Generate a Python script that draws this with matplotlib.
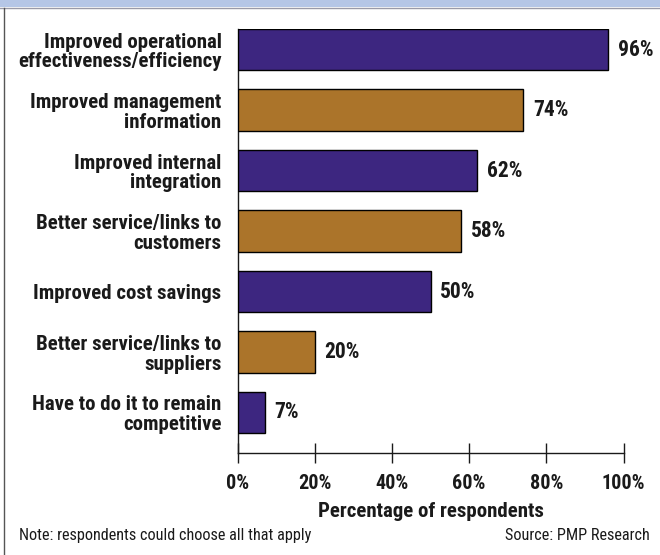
import matplotlib
matplotlib.use("Agg")
import matplotlib.pyplot as plt
from matplotlib.patches import Rectangle
from matplotlib.lines import Line2D

plt.rcParams['font.family'] = ['Liberation Sans Narrow', 'Roboto Condensed', 'DejaVu Sans Condensed', 'DejaVu Sans']

categories = [
    "Improved operational\neffectiveness/efficiency",
    "Improved management\ninformation",
    "Improved internal\nintegration",
    "Better service/links to\ncustomers",
    "Improved cost savings",
    "Better service/links to\nsuppliers",
    "Have to do it to remain\ncompetitive",
]
values = [96, 74, 62, 58, 50, 20, 7]
tick_values = [0, 20, 40, 60, 80, 100]
tick_labels = ["0%", "20%", "40%", "60%", "80%", "100%"]
xlabel = "Percentage of respondents"
note = "Note: respondents could choose all that apply"
source = "Source: PMP Research"

PURPLE = "#3d2680"
BROWN = "#ab742a"
INK = "#1a1a1a"
colors = [PURPLE if i % 2 == 0 else BROWN for i in range(len(values))]

W, H = 660, 555
fig = plt.figure(figsize=(W / 100, H / 100), dpi=100)

# header band and left frame rule
fig.add_artist(Rectangle((0, 1 - 7 / H), 1, 7 / H, transform=fig.transFigure,
                         facecolor="#b5c6e6", edgecolor="none"))
fig.add_artist(Line2D([0, 1], [1 - 7.5 / H, 1 - 7.5 / H], transform=fig.transFigure,
                      color="#9a9aa8", lw=1.0))
fig.add_artist(Line2D([3.5 / W, 3.5 / W], [0, 1 - 7.5 / H], transform=fig.transFigure,
                      color="#555555", lw=1.0))

x0, x1 = 237.5, 623.5
ytop, ybot = 29, 453
ax = fig.add_axes([x0 / W, (H - ybot) / H, (x1 - x0) / W, (ybot - ytop) / H])

n = len(values)
ypos = [n - 1 - i for i in range(n)]
ax.barh(ypos, values, height=0.68, color=colors, edgecolor="black", linewidth=1.0, zorder=3)

ax.set_xlim(0, 100)
ax.set_ylim(-0.67, n - 1 + 0.34)

FS = 15
for y, v in zip(ypos, values):
    ax.annotate(f"{v}%", (v, y), xytext=(7, 0), textcoords="offset points",
                ha="left", va="center", fontsize=15.5, fontweight="bold", color=INK)

ax.set_yticks(ypos)
ax.set_yticklabels(categories, fontsize=FS, fontweight="bold", color=INK, linespacing=1.05)
ax.tick_params(axis="y", length=0, pad=11.5)

ax.set_xticks(tick_values)
ax.set_xticklabels(tick_labels, fontsize=14.5, fontweight="bold", color=INK)
ax.tick_params(axis="x", direction="inout", length=14, width=1.0, pad=8.2, color=INK)
ax.set_xlabel(xlabel, fontsize=FS, fontweight="bold", color=INK, labelpad=6.7)

for s in ("top", "right"):
    ax.spines[s].set_visible(False)
for s in ("left", "bottom"):
    ax.spines[s].set_linewidth(1.0)
    ax.spines[s].set_color(INK)

fig.text(19 / W, 1 - 540 / H, note, fontsize=11.7, color=INK, ha="left", va="baseline")
fig.text(650 / W, 1 - 540 / H, source, fontsize=11.7, color=INK, ha="right", va="baseline")

fig.savefig("out.png", dpi=100)
